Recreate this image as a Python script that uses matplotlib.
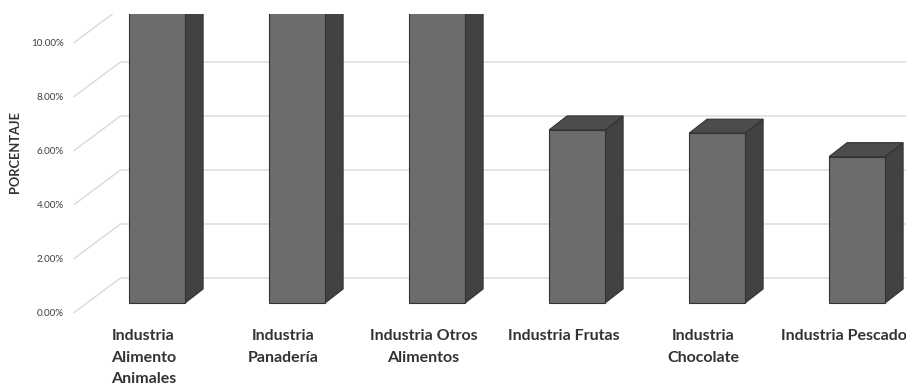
import matplotlib
matplotlib.use("Agg")
import matplotlib.pyplot as plt
from matplotlib.patches import Polygon

# ---- data ----
categories = ["Industria\nAlimento\nAnimales", "Industria\nPanadería",
              "Industria Otros\nAlimentos", "Industria Frutas",
              "Industria\nChocolate", "Industria Pescado"]
values = [16.5, 13.8, 12.0, 6.41, 6.29, 5.42]   # percent
yticks = [0, 2, 4, 6, 8, 10]
ylabel = "PORCENTAJE"

# ---- layout / style ----
W, H, DPI = 906, 386, 100
PX_X = 140.0          # px per category
PX_Y = 27.0           # px per percent
X0PX, Y0PX = 143.5, 313.0   # front-plane origin (category 0, 0%) in pixels
TOPPX = 14.0          # top clip of plot area
wall_dx, wall_dy = 47 / PX_X, 35 / PX_Y          # depth of side/back wall
bar_fx, bar_fy = 13.6 / PX_X, 10.0 / PX_Y        # front face offset
bar_dx, bar_dy = 18 / PX_X, 14 / PX_Y            # bar depth
bar_w = 56 / PX_X

front_c, top_c, side_c, edge_c = "#6c6c6c", "#4c4c4c", "#424242", "#333333"
grid_c = "#d9d9d9"
text_c = "#333333"
tick_c = "#404040"

fig = plt.figure(figsize=(W / DPI, H / DPI), dpi=DPI)
ax = fig.add_axes([0, 0, 1, (H - TOPPX) / H])
ax.set_xlim((0 - X0PX) / PX_X, (W - X0PX) / PX_X)
ax.set_ylim((Y0PX - H) / PX_Y, (Y0PX - TOPPX) / PX_Y)
ax.axis("off")

xleft = -0.5
xright = (W - X0PX) / PX_X + 0.1
# gridlines: diagonal on side wall + horizontal on back wall
for v in yticks + [12]:
    ax.plot([xleft, xleft + wall_dx, xright], [v, v + wall_dy, v + wall_dy],
            color=grid_c, lw=1.0, zorder=1, solid_capstyle="butt")

# bars
for i, v in enumerate(values):
    x0 = i + bar_fx - bar_w / 2
    y0 = bar_fy
    front = [(x0, y0), (x0 + bar_w, y0), (x0 + bar_w, y0 + v), (x0, y0 + v)]
    top = [(x0, y0 + v), (x0 + bar_w, y0 + v),
           (x0 + bar_w + bar_dx, y0 + v + bar_dy), (x0 + bar_dx, y0 + v + bar_dy)]
    side = [(x0 + bar_w, y0), (x0 + bar_w + bar_dx, y0 + bar_dy),
            (x0 + bar_w + bar_dx, y0 + v + bar_dy), (x0 + bar_w, y0 + v)]
    for pts, c in ((side, side_c), (top, top_c), (front, front_c)):
        ax.add_patch(Polygon(pts, closed=True, facecolor=c, edgecolor=edge_c,
                             lw=0.8, zorder=3, joinstyle="miter"))

# y tick labels
for v in yticks:
    ax.text((64 - X0PX) / PX_X, v, f"{v:.2f}%", ha="right", va="center",
            fontsize=7.1, family="Lato", color=tick_c)

# y label
ax.text((15 - X0PX) / PX_X, (Y0PX - 152) / PX_Y, ylabel, rotation=90,
        ha="center", va="center", fontsize=9.3, family="Lato",
        fontweight="bold", color=text_c)

# category labels
for i, lab in enumerate(categories):
    ax.text(i, (Y0PX - 329.5) / PX_Y, lab, ha="center", va="top",
            fontsize=11.5, family="Lato", fontweight="bold", color=text_c,
            linespacing=1.65, clip_on=False)

fig.savefig("out.png", dpi=DPI, facecolor="white")
